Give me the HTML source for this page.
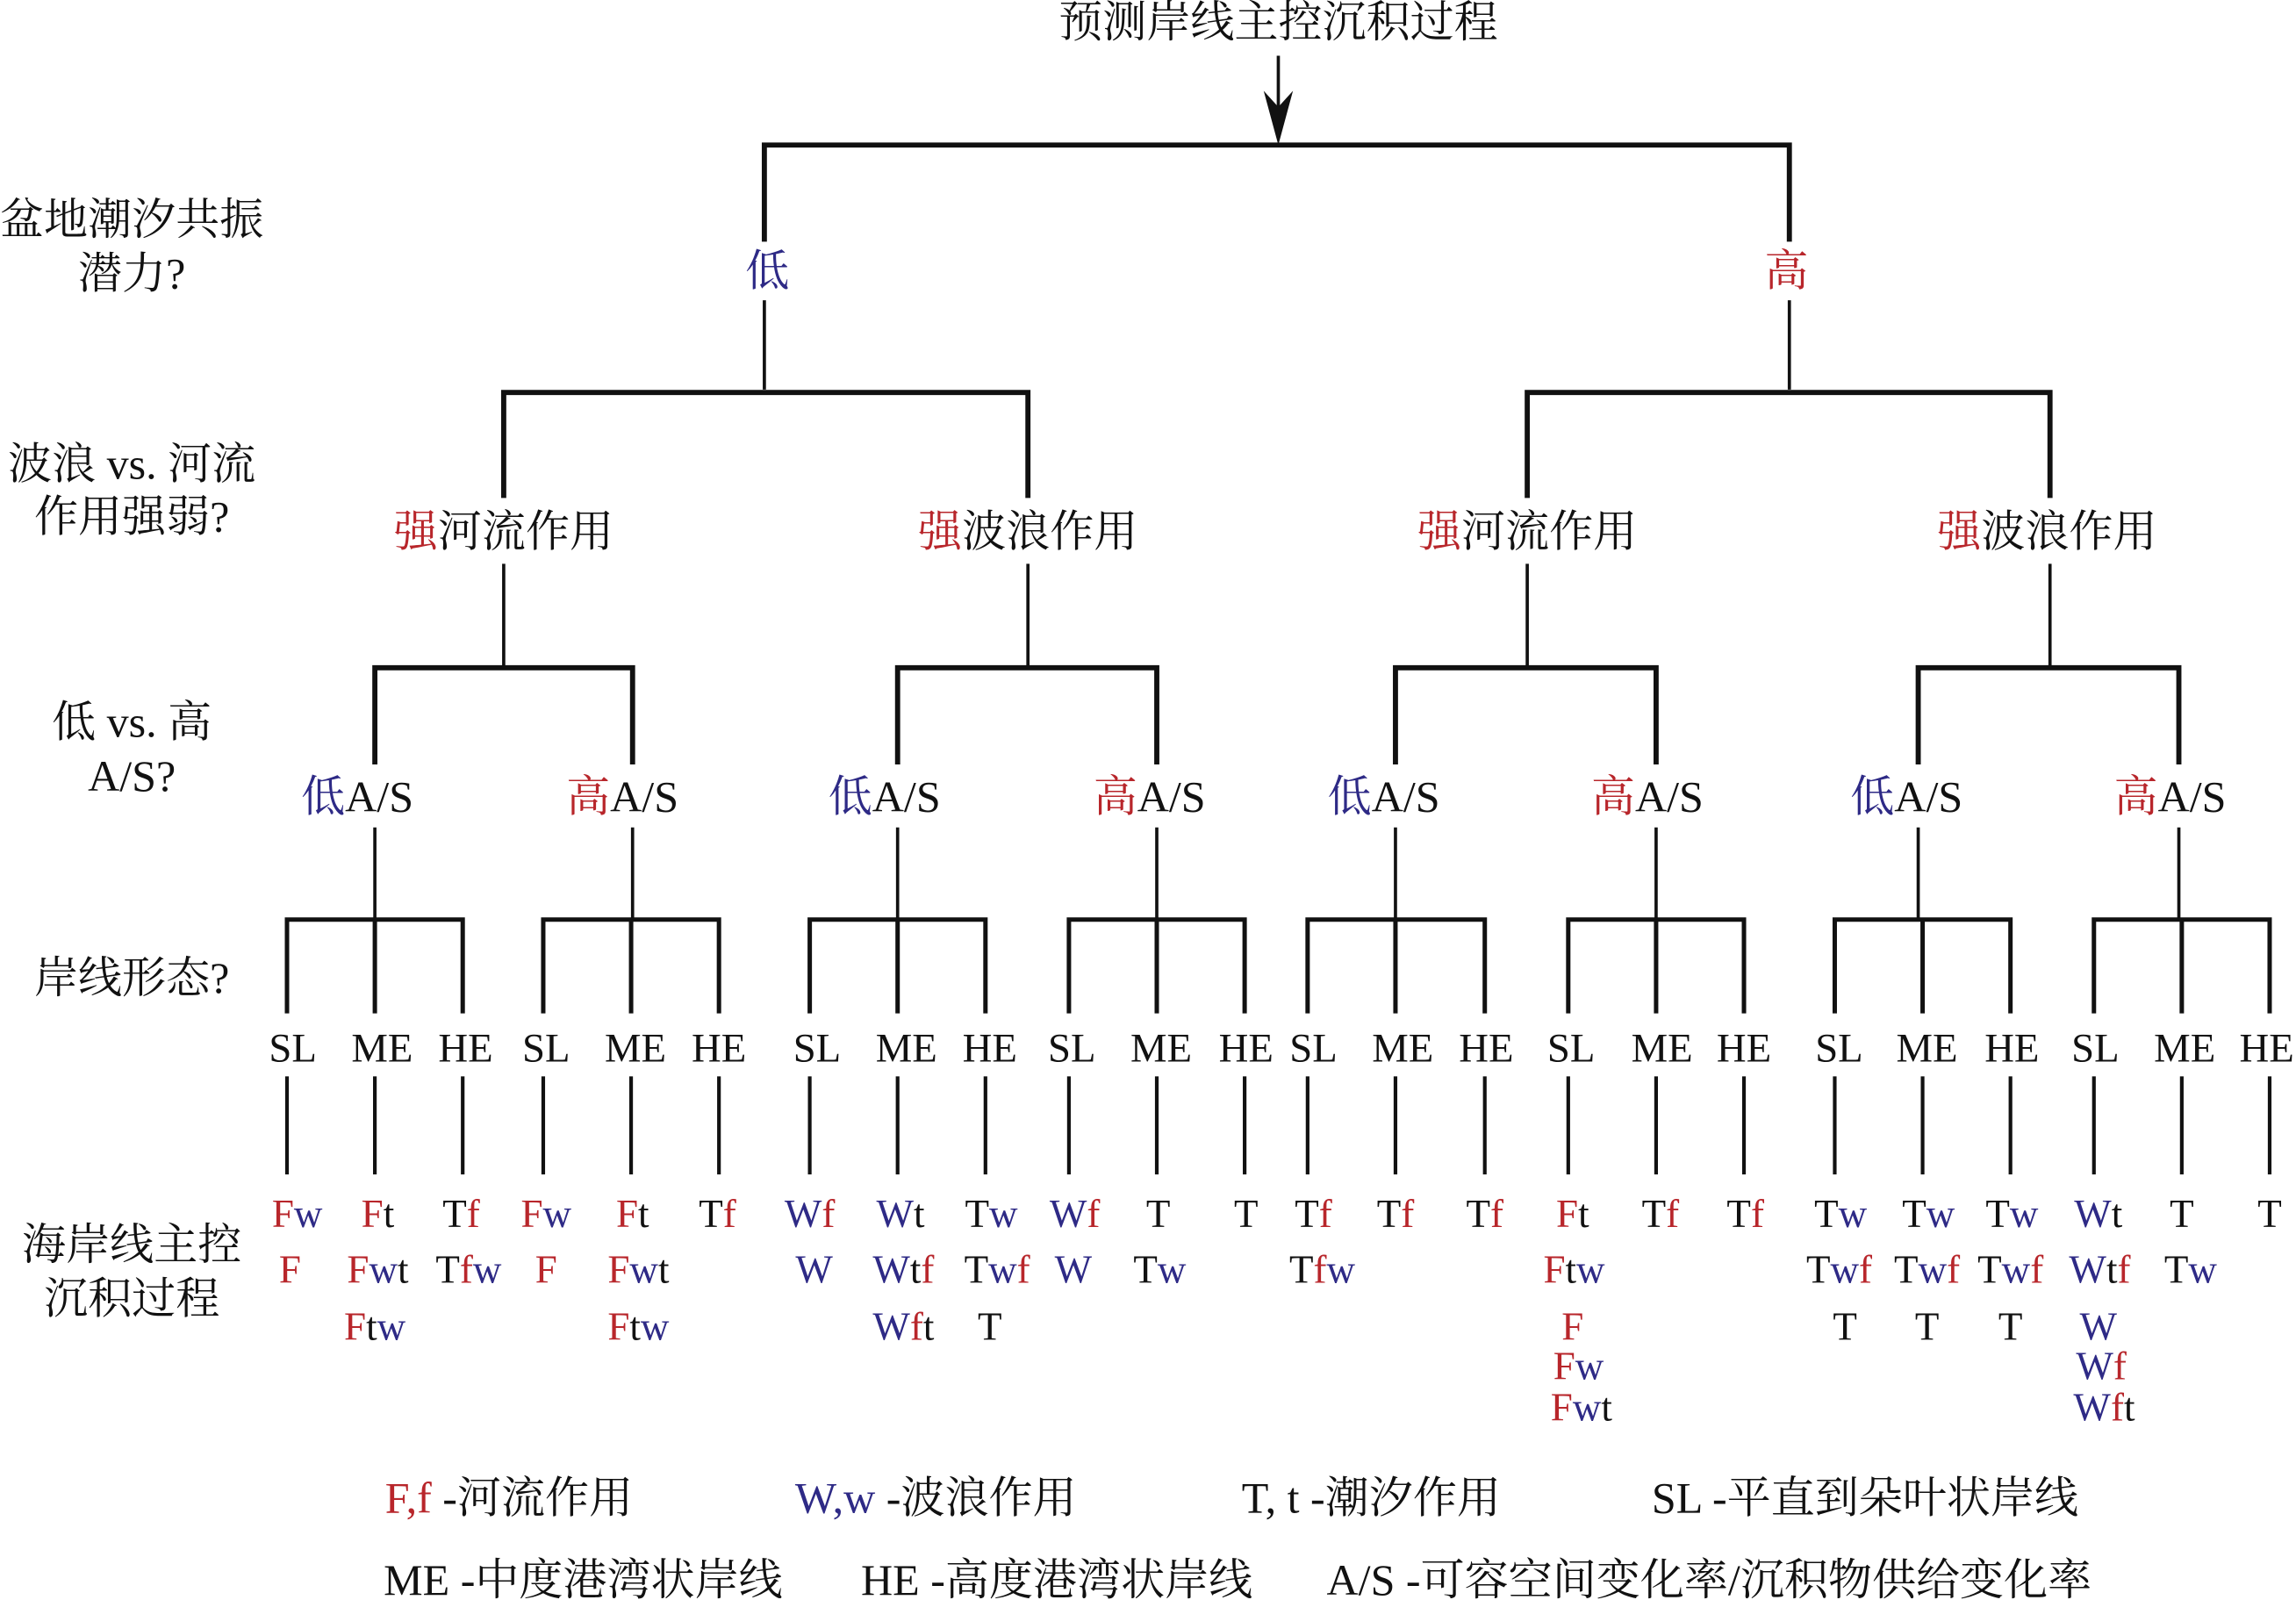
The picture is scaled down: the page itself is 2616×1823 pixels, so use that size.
<!DOCTYPE html>
<html><head><meta charset="utf-8"><style>
html,body{margin:0;padding:0;background:#fff;}
svg{display:block;}
text{font-family:"Liberation Serif","Noto Serif CJK SC",serif;font-size:30px;fill:#111;}
.r{fill:#b8262b;} .b{fill:#2e2a86;} .k{fill:#111;}
.lf{font-size:27px;text-anchor:middle;}
.sm{font-size:28px;}
</style></head><body>
<svg width="2616" height="1823" viewBox="0 0 1568 1092.6" xmlns="http://www.w3.org/2000/svg">
<g stroke="#111" stroke-width="2.2" fill="none">
<line x1="873" y1="38" x2="873" y2="80"/>
<path d="M522 165 V99 H1222 V165" stroke-width="3.5"/>
<line x1="522" y1="205" x2="522" y2="266"/>
<line x1="1222" y1="205" x2="1222" y2="266"/>
<path d="M344 340 V268 H702 V340" stroke-width="3.5"/>
<path d="M1043 340 V268 H1400 V340" stroke-width="3.5"/>
<line x1="344" y1="385" x2="344" y2="456"/>
<line x1="702" y1="385" x2="702" y2="456"/>
<line x1="1043" y1="385" x2="1043" y2="456"/>
<line x1="1400" y1="385" x2="1400" y2="456"/>
<path d="M256 522 V456 H432 V522" stroke-width="3.5"/>
<path d="M613 522 V456 H790 V522" stroke-width="3.5"/>
<path d="M953 522 V456 H1131 V522" stroke-width="3.5"/>
<path d="M1310 522 V456 H1488 V522" stroke-width="3.5"/>
<line x1="256" y1="565" x2="256" y2="628"/>
<line x1="432" y1="565" x2="432" y2="628"/>
<line x1="613" y1="565" x2="613" y2="628"/>
<line x1="790" y1="565" x2="790" y2="628"/>
<line x1="953" y1="565" x2="953" y2="628"/>
<line x1="1131" y1="565" x2="1131" y2="628"/>
<line x1="1310" y1="565" x2="1310" y2="628"/>
<line x1="1488" y1="565" x2="1488" y2="628"/>
<g stroke-width="3">
<path d="M196 692 V628 H316 V692 M256 628 V692"/>
<path d="M371 692 V628 H491 V692 M431 628 V692"/>
<path d="M553 692 V628 H673 V692 M613 628 V692"/>
<path d="M730 692 V628 H850 V692 M790 628 V692"/>
<path d="M893 692 V628 H1014 V692 M953 628 V692"/>
<path d="M1071 692 V628 H1191 V692 M1131 628 V692"/>
<path d="M1253 692 V628 H1373 V692 M1313 628 V692"/>
<path d="M1430 692 V628 H1550 V692 M1490 628 V692"/>
</g>
<g stroke-width="2.5">
<path d="M196 735V802M256 735V802M316 735V802M371 735V802M431 735V802M491 735V802M553 735V802M613 735V802M673 735V802M730 735V802M790 735V802M850 735V802M893 735V802M953 735V802M1014 735V802M1071 735V802M1131 735V802M1191 735V802M1253 735V802M1313 735V802M1373 735V802M1430 735V802M1490 735V802M1550 735V802"/>
</g>
</g>
<polygon points="873,99 863,62 873,73 883,62" fill="#111"/>

<text x="873" y="25" text-anchor="middle">预测岸线主控沉积过程</text>
<text x="524" y="195" text-anchor="middle" class="b">低</text>
<text x="1220" y="195" text-anchor="middle" class="r">高</text>
<text x="344" y="373" text-anchor="middle"><tspan class="r">强</tspan>河流作用</text>
<text x="702" y="373" text-anchor="middle"><tspan class="r">强</tspan>波浪作用</text>
<text x="1043" y="373" text-anchor="middle"><tspan class="r">强</tspan>河流作用</text>
<text x="1398" y="373" text-anchor="middle"><tspan class="r">强</tspan>波浪作用</text>

<g text-anchor="middle">
<text x="244" y="554"><tspan class="b">低</tspan>A/S</text>
<text x="425" y="554"><tspan class="r">高</tspan>A/S</text>
<text x="604" y="554"><tspan class="b">低</tspan>A/S</text>
<text x="785" y="554"><tspan class="r">高</tspan>A/S</text>
<text x="945" y="554"><tspan class="b">低</tspan>A/S</text>
<text x="1125" y="554"><tspan class="r">高</tspan>A/S</text>
<text x="1302" y="554"><tspan class="b">低</tspan>A/S</text>
<text x="1482" y="554"><tspan class="r">高</tspan>A/S</text>
</g>

<g text-anchor="middle">
<text x="90" y="160">盆地潮汐共振</text><text x="90" y="197">潜力?</text>
<text x="90" y="327">波浪 vs. 河流</text><text x="90" y="363">作用强弱?</text>
<text x="90" y="503">低 vs. 高</text><text x="90" y="540">A/S?</text>
<text x="90" y="678">岸线形态?</text>
<text x="90" y="860">海岸线主控</text><text x="90" y="897">沉积过程</text>
</g>

<g text-anchor="middle" class="sm">
<text class="sm" x="200" y="725">SL</text><text class="sm" x="261" y="725">ME</text><text class="sm" x="318" y="725">HE</text>
<text class="sm" x="373" y="725">SL</text><text class="sm" x="434" y="725">ME</text><text class="sm" x="491" y="725">HE</text>
<text class="sm" x="558" y="725">SL</text><text class="sm" x="619" y="725">ME</text><text class="sm" x="676" y="725">HE</text>
<text class="sm" x="732" y="725">SL</text><text class="sm" x="793" y="725">ME</text><text class="sm" x="851" y="725">HE</text>
<text class="sm" x="897" y="725">SL</text><text class="sm" x="958" y="725">ME</text><text class="sm" x="1015" y="725">HE</text>
<text class="sm" x="1073" y="725">SL</text><text class="sm" x="1135" y="725">ME</text><text class="sm" x="1191" y="725">HE</text>
<text class="sm" x="1256" y="725">SL</text><text class="sm" x="1316" y="725">ME</text><text class="sm" x="1374" y="725">HE</text>
<text class="sm" x="1431" y="725">SL</text><text class="sm" x="1492" y="725">ME</text><text class="sm" x="1548" y="725">HE</text>
</g>

<g class="lf">
<text x="203" y="838" class="lf"><tspan class="r">F</tspan><tspan class="b">w</tspan></text>
<text x="198" y="876" class="lf"><tspan class="r">F</tspan></text>
<text x="258" y="838" class="lf"><tspan class="r">F</tspan><tspan class="k">t</tspan></text>
<text x="258" y="876" class="lf"><tspan class="r">F</tspan><tspan class="b">w</tspan><tspan class="k">t</tspan></text>
<text x="256" y="915" class="lf"><tspan class="r">F</tspan><tspan class="k">t</tspan><tspan class="b">w</tspan></text>
<text x="315" y="838" class="lf"><tspan class="k">T</tspan><tspan class="r">f</tspan></text>
<text x="320" y="876" class="lf"><tspan class="k">T</tspan><tspan class="r">f</tspan><tspan class="b">w</tspan></text>
<text x="373" y="838" class="lf"><tspan class="r">F</tspan><tspan class="b">w</tspan></text>
<text x="373" y="876" class="lf"><tspan class="r">F</tspan></text>
<text x="432" y="838" class="lf"><tspan class="r">F</tspan><tspan class="k">t</tspan></text>
<text x="436" y="876" class="lf"><tspan class="r">F</tspan><tspan class="b">w</tspan><tspan class="k">t</tspan></text>
<text x="436" y="915" class="lf"><tspan class="r">F</tspan><tspan class="k">t</tspan><tspan class="b">w</tspan></text>
<text x="490" y="838" class="lf"><tspan class="k">T</tspan><tspan class="r">f</tspan></text>
<text x="553" y="838" class="lf"><tspan class="b">W</tspan><tspan class="r">f</tspan></text>
<text x="556" y="876" class="lf"><tspan class="b">W</tspan></text>
<text x="615" y="838" class="lf"><tspan class="b">W</tspan><tspan class="k">t</tspan></text>
<text x="617" y="876" class="lf"><tspan class="b">W</tspan><tspan class="k">t</tspan><tspan class="r">f</tspan></text>
<text x="617" y="915" class="lf"><tspan class="b">W</tspan><tspan class="r">f</tspan><tspan class="k">t</tspan></text>
<text x="677" y="838" class="lf"><tspan class="k">T</tspan><tspan class="b">w</tspan></text>
<text x="681" y="876" class="lf"><tspan class="k">T</tspan><tspan class="b">w</tspan><tspan class="r">f</tspan></text>
<text x="676" y="915" class="lf"><tspan class="k">T</tspan></text>
<text x="734" y="838" class="lf"><tspan class="b">W</tspan><tspan class="r">f</tspan></text>
<text x="733" y="876" class="lf"><tspan class="b">W</tspan></text>
<text x="791" y="838" class="lf"><tspan class="k">T</tspan></text>
<text x="792" y="876" class="lf"><tspan class="k">T</tspan><tspan class="b">w</tspan></text>
<text x="851" y="838" class="lf"><tspan class="k">T</tspan></text>
<text x="897" y="838" class="lf"><tspan class="k">T</tspan><tspan class="r">f</tspan></text>
<text x="903" y="876" class="lf"><tspan class="k">T</tspan><tspan class="r">f</tspan><tspan class="b">w</tspan></text>
<text x="953" y="838" class="lf"><tspan class="k">T</tspan><tspan class="r">f</tspan></text>
<text x="1014" y="838" class="lf"><tspan class="k">T</tspan><tspan class="r">f</tspan></text>
<text x="1074" y="838" class="lf"><tspan class="r">F</tspan><tspan class="k">t</tspan></text>
<text x="1075" y="876" class="lf"><tspan class="r">F</tspan><tspan class="k">t</tspan><tspan class="b">w</tspan></text>
<text x="1074" y="915" class="lf"><tspan class="r">F</tspan></text>
<text x="1078" y="942" class="lf"><tspan class="r">F</tspan><tspan class="b">w</tspan></text>
<text x="1080" y="970" class="lf"><tspan class="r">F</tspan><tspan class="b">w</tspan><tspan class="k">t</tspan></text>
<text x="1134" y="838" class="lf"><tspan class="k">T</tspan><tspan class="r">f</tspan></text>
<text x="1192" y="838" class="lf"><tspan class="k">T</tspan><tspan class="r">f</tspan></text>
<text x="1257" y="838" class="lf"><tspan class="k">T</tspan><tspan class="b">w</tspan></text>
<text x="1256" y="876" class="lf"><tspan class="k">T</tspan><tspan class="b">w</tspan><tspan class="r">f</tspan></text>
<text x="1260" y="915" class="lf"><tspan class="k">T</tspan></text>
<text x="1317" y="838" class="lf"><tspan class="k">T</tspan><tspan class="b">w</tspan></text>
<text x="1316" y="876" class="lf"><tspan class="k">T</tspan><tspan class="b">w</tspan><tspan class="r">f</tspan></text>
<text x="1316" y="915" class="lf"><tspan class="k">T</tspan></text>
<text x="1374" y="838" class="lf"><tspan class="k">T</tspan><tspan class="b">w</tspan></text>
<text x="1373" y="876" class="lf"><tspan class="k">T</tspan><tspan class="b">w</tspan><tspan class="r">f</tspan></text>
<text x="1373" y="915" class="lf"><tspan class="k">T</tspan></text>
<text x="1433" y="838" class="lf"><tspan class="b">W</tspan><tspan class="k">t</tspan></text>
<text x="1434" y="876" class="lf"><tspan class="b">W</tspan><tspan class="k">t</tspan><tspan class="r">f</tspan></text>
<text x="1433" y="915" class="lf"><tspan class="b">W</tspan></text>
<text x="1435" y="942" class="lf"><tspan class="b">W</tspan><tspan class="r">f</tspan></text>
<text x="1437" y="970" class="lf"><tspan class="b">W</tspan><tspan class="r">f</tspan><tspan class="k">t</tspan></text>
<text x="1490" y="838" class="lf"><tspan class="k">T</tspan></text>
<text x="1496" y="876" class="lf"><tspan class="k">T</tspan><tspan class="b">w</tspan></text>
<text x="1550" y="838" class="lf"><tspan class="k">T</tspan></text>
</g>

<text x="263" y="1033"><tspan class="r">F,f</tspan> -河流作用</text>
<text x="543" y="1033"><tspan class="b">W,w</tspan> -波浪作用</text>
<text x="848" y="1033">T, t -潮汐作用</text>
<text x="1128" y="1033">SL -平直到朵叶状岸线</text>
<text x="262" y="1089">ME -中度港湾状岸线</text>
<text x="588" y="1089">HE -高度港湾状岸线</text>
<text x="906" y="1089">A/S -可容空间变化率/沉积物供给变化率</text>
</svg>
</body></html>
